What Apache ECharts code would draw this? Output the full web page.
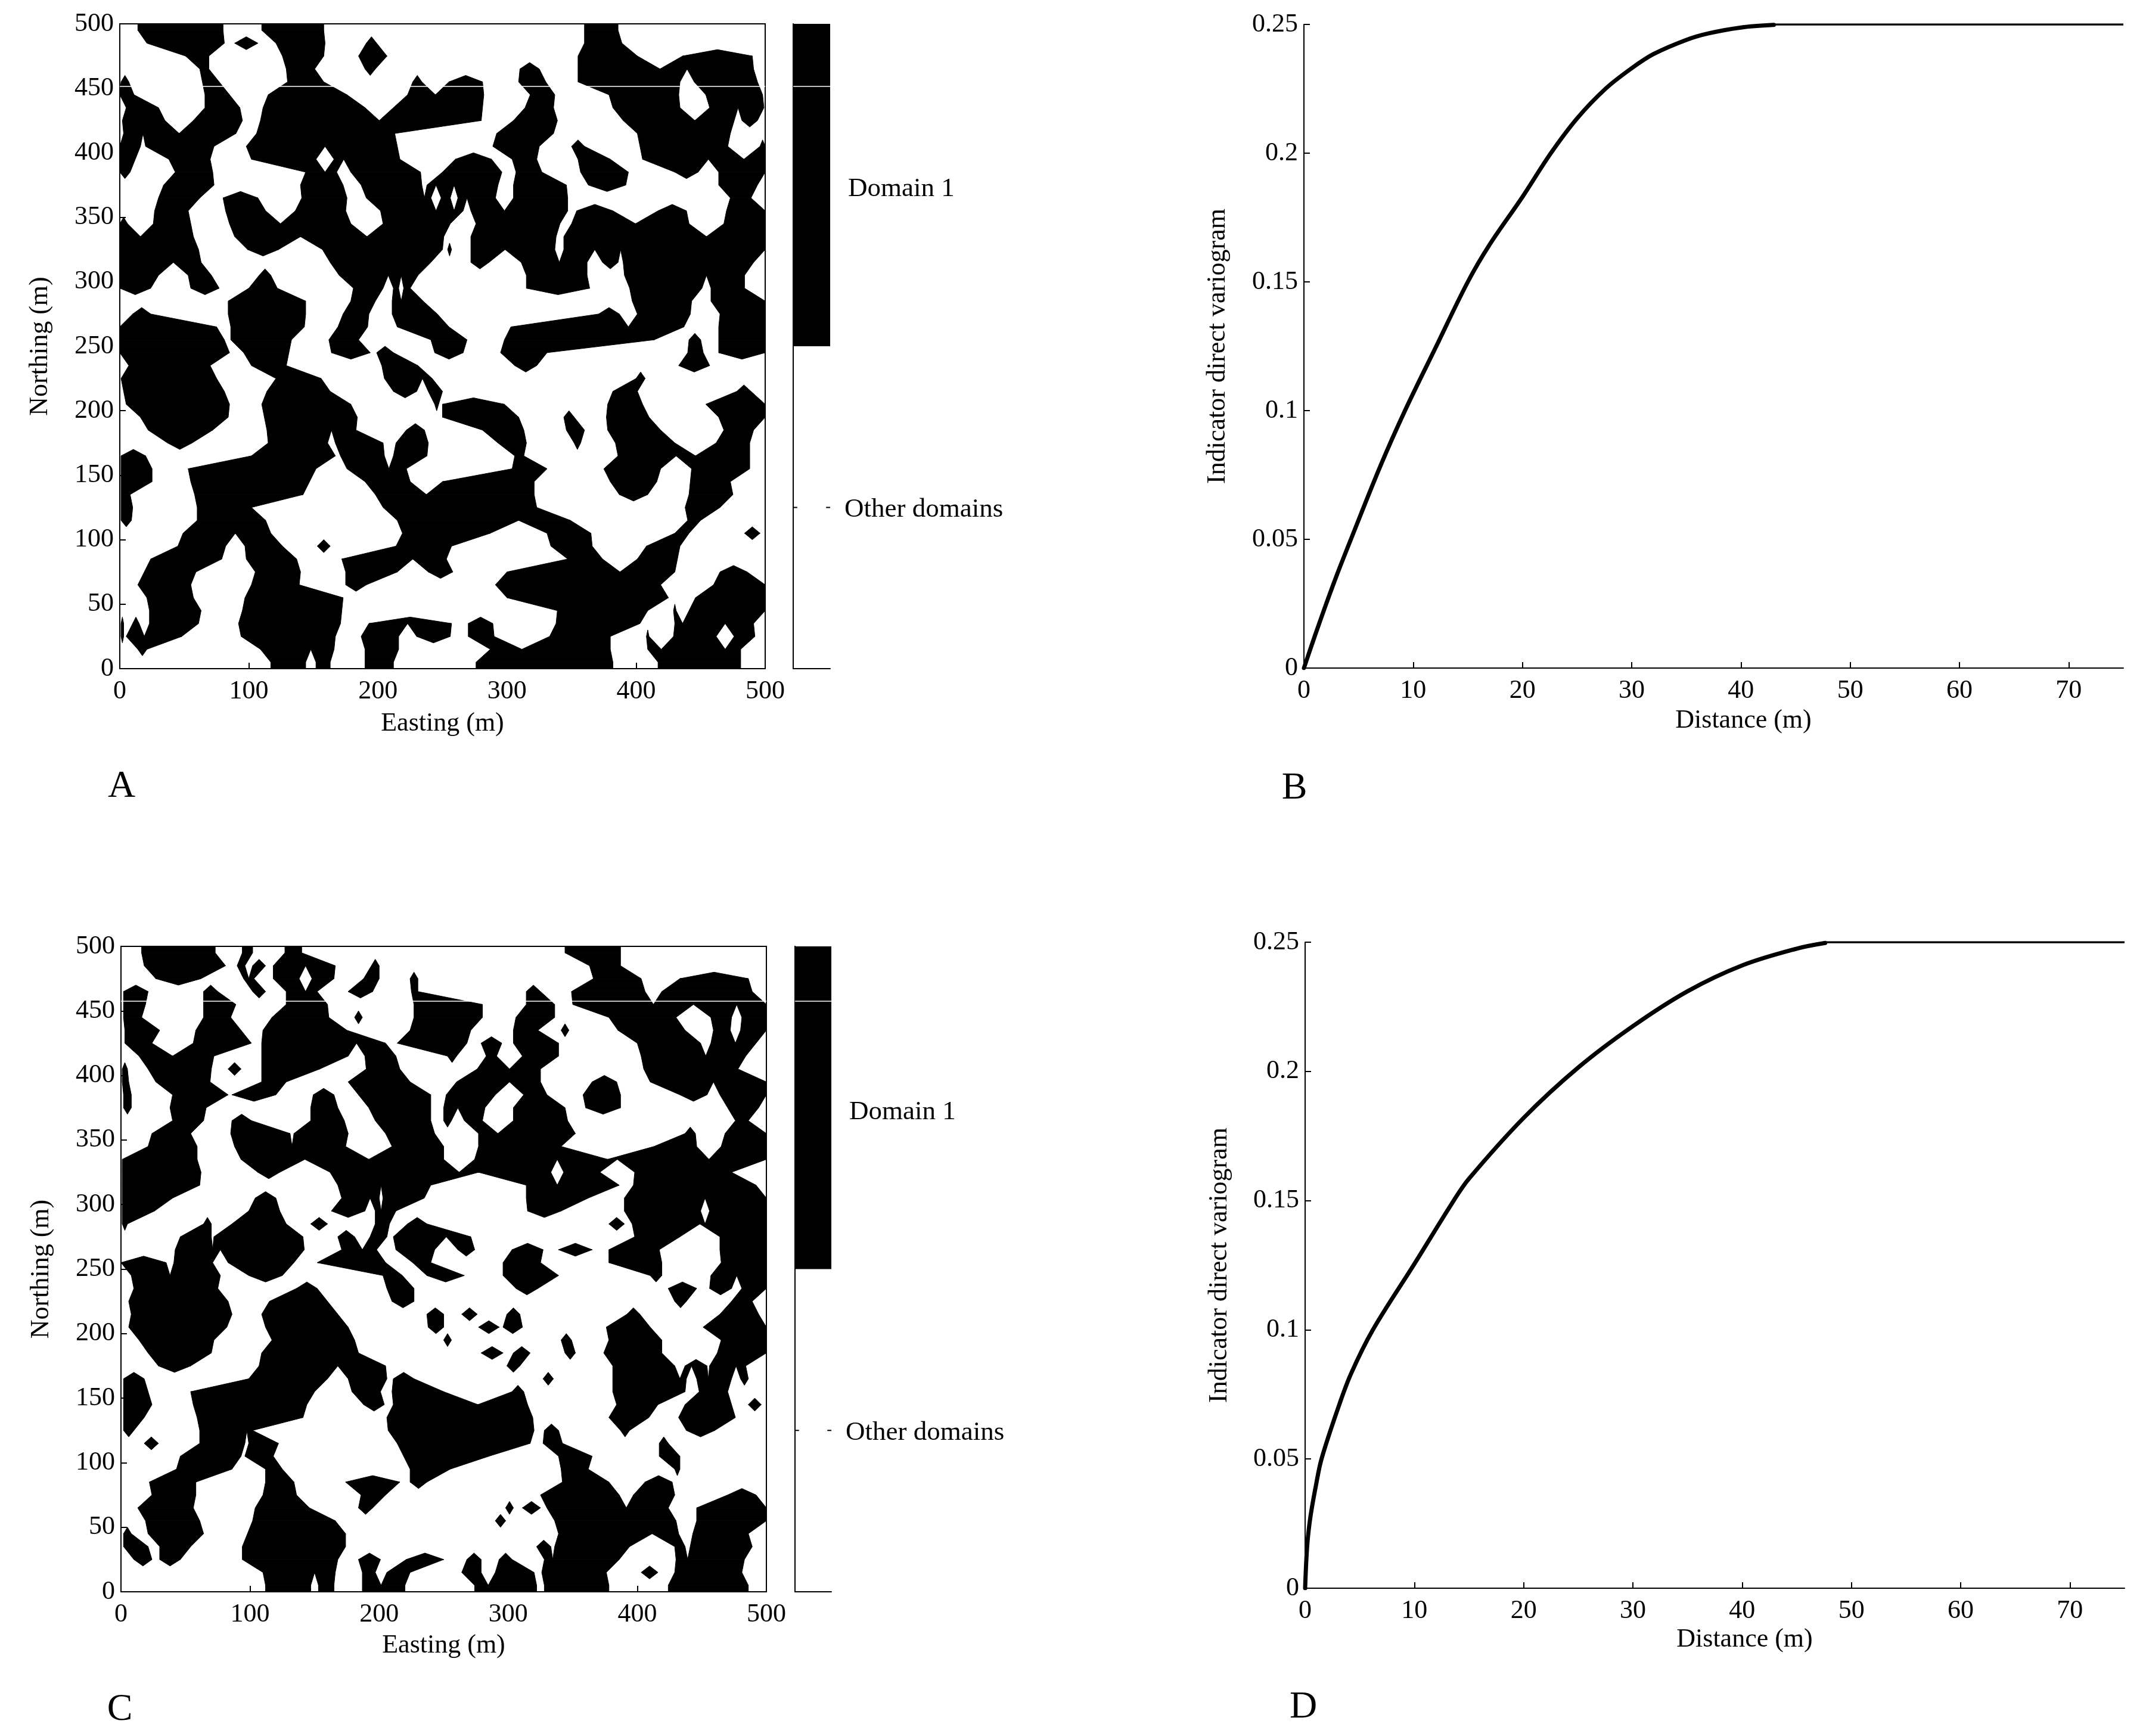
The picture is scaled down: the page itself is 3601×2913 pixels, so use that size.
<!DOCTYPE html>
<html><head><meta charset="utf-8">
<style>html,body{margin:0;padding:0;background:#fff}#c{width:3601px;height:2913px}</style>
<script src="https://cdn.jsdelivr.net/npm/echarts@6/dist/echarts.min.js"></script>
</head><body><div id="c"></div>
<script>
const mapXTicks=[0,100,200,300,400,500];
const mapYTicks=[0,50,100,150,200,250,300,350,400,450,500];
const distTicks=[0,10,20,30,40,50,60,70];
const varioTicks=[0,0.05,0.1,0.15,0.2,0.25];
const domainNames=['Other domains','Domain 1'];
const rowNorthing=[495,485,475,465,455,445,435,425,415,405,395,385,375,365,355,345,335,325,315,305,295,285,275,265,255,245,235,225,215,205,195,185,175,165,155,145,135,125,115,105,95,85,75,65,55,45,35,25,15,5];
const mapARuns=[
[14,80,110,158,360,386],
[21,81,89,107,121,159,191,199,360,389],
[51,69,126,158,185,207,355,401,436,490],
[62,69,129,151,190,198,310,325,355,491],
[1,7,64,77,130,158,227,234,255,281,309,330,355,434,445,494],
[0,11,66,85,115,176,223,250,250,282,318,337,379,433,454,498],
[5,30,66,93,111,190,212,250,250,281,314,336,382,434,457,499],
[2,35,57,95,109,250,250,280,305,339,390,476,482,494],
[3,90,106,213,292,336,401,473],
[0,16,20,73,98,215,289,325,350,360,403,471,496,500],
[0,12,38,70,102,152,166,217,260,288,304,323,355,380,405,500],
[0,8,43,72,144,168,179,233,250,296,307,327,357,394,430,448,464,500],
[34,73,140,173,187,234,238,250,250,293,305,346,363,392,464,494],
[30,62,80,107,141,176,191,241,249,250,250,256,262,291,305,347,473,489],
[27,53,82,113,136,175,202,250,250,266,272,347,354,382,417,439,470,500],
[0,6,26,55,85,179,204,250,250,256,276,341,350,441,468,500],
[0,57,89,250,250,251,272,338,344,500],
[0,61,99,123,157,250,254,257,272,337,344,500],
[0,63,163,241,272,286,311,362,374,386,390,491],
[0,30,53,71,108,117,170,231,315,362,391,484],
[0,24,55,77,100,122,181,204,212,216,220,225,315,364,395,451,458,484],
[84,144,179,198,211,235,397,443,458,500],
[10,24,84,144,173,193,211,246,371,387,401,442,465,500],
[0,75,86,143,169,192,215,250,250,255,303,437,464,500],
[0,81,86,133,162,185,241,250,250,269,298,414,441,450,464,500],
[0,85,96,131,164,194,199,212,244,250,250,266,295,331,440,452,464,500],
[7,70,102,129,203,231,306,323,433,457],
[1,75,121,156,205,242,400,407],
[3,81,114,163,212,230,239,250,382,401,478,489],
[5,85,110,179,244,247,250,298,378,405,454,500],
[16,84,112,184,250,309,344,352,377,410,464,500],
[22,72,114,183,222,236,281,313,346,360,378,419,468,491],
[37,56,115,161,167,204,214,239,293,315,352,357,384,430,462,488],
[1,20,102,167,171,205,212,238,306,313,386,488],
[1,25,53,152,176,222,304,331,375,419,443,488],
[1,25,55,147,190,225,250,321,380,416,442,473],
[1,8,58,142,198,250,250,321,387,409,441,475],
[1,10,60,102,204,250,250,323,438,465],
[1,9,60,113,215,250,250,349,440,450],
[49,117,219,250,250,287,331,365,430,441,484,496],
[45,82,97,126,153,163,214,250,250,257,334,366,408,434],
[24,79,98,137,172,250,250,253,347,374,401,432],
[19,59,105,140,175,215,239,250,250,258,300,430,465,486],
[14,55,102,139,175,191,291,419,460,500],
[21,57,97,173,300,425,446,500],
[23,63,95,172,339,409,429,431,441,500],
[1,3,10,15,23,61,92,171,193,250,250,257,270,289,338,403,430,491],
[1,3,5,48,94,167,187,216,230,250,250,256,270,290,333,380,408,410,429,462,476,492],
[14,21,109,166,190,216,287,380,409,481],
[117,144,152,163,190,212,276,382,417,481]
];
const mapCRuns=[
[16,73,94,102,127,140,344,387],
[18,81,90,96,102,112,118,166,194,200,363,387],
[27,62,95,103,118,138,148,165,188,200,224,230,366,403,433,486],
[2,21,64,75,102,112,128,152,176,195,225,230,314,325,349,406,419,489],
[2,19,64,89,128,160,227,250,250,280,314,336,350,500],
[2,16,64,85,117,161,181,187,227,250,250,280,306,336,378,430,457,473,481,500],
[3,30,58,93,110,175,224,250,250,271,304,323,341,347,385,437,459,472,480,500],
[3,24,56,101,109,205,214,250,250,268,279,295,304,339,400,449,457,492],
[14,72,109,176,189,213,253,260,283,291,311,339,403,484],
[1,5,21,70,83,93,109,154,190,216,276,325,405,478],
[1,6,27,69,109,128,176,224,260,325,365,384,410,500],
[2,8,40,83,86,120,149,165,184,240,252,290,312,330,358,387,433,454,464,500],
[2,8,38,66,147,168,192,240,250,282,304,344,360,387,470,494],
[40,64,86,101,147,173,197,240,250,256,266,280,304,346,476,486],
[24,54,85,131,134,176,205,243,277,352,437,445,468,500],
[21,59,88,174,210,250,277,341,413,446,465,500],
[1,59,93,250,274,500],
[1,62,106,123,162,250,250,333,343,371,398,473],
[1,61,168,240,314,386,397,492],
[1,40,104,120,171,200,203,235,314,362,390,500],
[1,26,99,123,163,189,197,213,315,341,390,449,456,500],
[1,5,64,70,86,128,147,160,197,208,222,237,378,390,396,500],
[46,70,72,141,168,181,193,206,211,250,250,271,398,433,464,500],
[42,142,171,198,213,243,261,274,303,327,339,365,378,417,464,500],
[0,35,41,71,83,134,152,205,226,240,296,325,378,419,465,500],
[8,77,99,125,203,218,237,250,250,266,296,339,410,419,457,500],
[10,75,136,152,206,227,306,323,424,446,456,473,481,500],
[6,83,115,160,210,227,429,438,473,489],
[8,86,109,168,237,250,264,276,299,309,392,402,464,494],
[6,82,112,176,238,250,277,293,296,311,376,410,451,500],
[14,72,117,181,250,256,341,349,378,419,465,500],
[21,70,109,184,279,296,304,317,344,352,374,419,462,500],
[29,54,107,205,299,309,381,429,437,454,456,484],
[2,18,99,160,176,206,211,227,327,335,381,438,446,473,480,486],
[2,21,54,150,179,201,210,250,303,312,381,437,448,470],
[2,24,56,144,188,204,211,250,250,315,384,416,437,473,486,496],
[2,18,59,141,206,250,250,319,378,409,432,476],
[2,10,61,102,207,250,250,320,328,339,387,394,438,460],
[18,29,61,96,99,122,214,250,250,317,327,342,417,424],
[46,93,96,118,219,250,250,285,339,365,417,433],
[43,86,112,125,224,250,250,255,341,362,429,433],
[22,58,112,134,174,216,224,237,342,378,406,427],
[24,58,110,136,186,205,325,386,397,429,470,492],
[13,56,104,146,184,195,298,304,311,325,330,424,446,500],
[19,61,102,166,290,298,336,430,446,500],
[2,8,21,64,98,174,339,432,443,486],
[2,21,30,54,94,174,322,333,336,394,429,437,441,489],
[10,24,30,46,94,168,184,201,221,250,268,279,293,303,328,386,430,483],
[110,166,187,197,206,224,264,279,290,320,326,376,403,416,429,481],
[112,147,153,165,187,220,274,322,328,378,424,486]
];
const seamANorthing=451.5, seamCNorthing=457.5, seamABar=1.806, seamCBar=1.83;
const varioBDist=[0,1,2,3,4.3,7,9.25,12,15,17,20,22.6,25,27.6,30,32,35,37,40,43];
const varioBVal=[0,0.0125,0.0245,0.036,0.05,0.0785,0.1,0.124,0.15,0.1645,0.183,0.2,0.2135,0.225,0.233,0.2385,0.244,0.2465,0.2488,0.2498];
const plateauBDist=[43,50,60,75];
const varioDDist=[0,0.2,0.5,1,1.5,3,4.2,6.2,10,13.6,15,20,25,30,35,40,45,47.6];
const varioDVal=[0,0.017,0.028,0.04,0.05,0.0695,0.083,0.1,0.1255,0.15,0.1585,0.182,0.2015,0.2175,0.231,0.241,0.2475,0.2497];
const plateauDDist=[47.6,50,60,75];
const plateauVal=0.25;

const FONT='Liberation Serif', FS=44;
const chart=echarts.init(document.getElementById('c'),null,{renderer:'canvas'});
const black='#000';
const lineS={show:true,lineStyle:{color:black,width:2}};
function toPairs(r){const p=[];for(let k=0;k<r.length;k+=2){const a=r[k],b=r[k+1];
  if(p.length&&a<=p[p.length-1][1]+1)p[p.length-1][1]=Math.max(b,p[p.length-1][1]);else p.push([a,b]);}return p;}
function bandPieces(U,L,yT,yB,out){
  const hit=(a,b)=>a[0]<b[1]&&b[0]<a[1];
  const clip=(host,others,o)=>{const i=others.indexOf(o);
    const lo=i>0?(others[i-1][1]+o[0])/2:host[0], hi=i<others.length-1?(o[1]+others[i+1][0])/2:host[1];
    return [Math.max(host[0],lo),Math.min(host[1],hi)];};
  const yM=(yT+yB)/2;
  U.forEach(u=>{const Ls=L.filter(l=>hit(u,l));
    if(!Ls.length){const m=(u[0]+u[1])/2;out.push([u[0],u[1],m,m,yT,yM]);return;}
    Ls.forEach(l=>{const Us=U.filter(v=>hit(v,l));const a=clip(u,Ls,l),b=clip(l,Us,u);out.push([a[0],a[1],b[0],b[1],yT,yB]);});});
  L.forEach(l=>{if(!U.some(u=>hit(u,l))){const m=(l[0]+l[1])/2;out.push([m,m,l[0],l[1],yM,yB]);}});
}
function runsToData(runs){const d=[],P=runs.map(toPairs);
  P[0].forEach(u=>d.push([u[0],u[1],u[0],u[1],500,rowNorthing[0]]));
  for(let i=0;i<P.length-1;i++)bandPieces(P[i],P[i+1],rowNorthing[i],rowNorthing[i+1],d);
  P[P.length-1].forEach(u=>d.push([u[0],u[1],u[0],u[1],rowNorthing[P.length-1],0]));
  return d;}
function polyItem(p,api){
  const a=api.coord([api.value(0),api.value(4)]),b=api.coord([api.value(1),api.value(4)]),c=api.coord([api.value(3),api.value(5)]),e=api.coord([api.value(2),api.value(5)]);
  return {type:'polygon',shape:{points:[a,b,c,e]},style:{fill:black,stroke:black,lineWidth:1}};}
function rectItem(p,api){const a=api.coord([api.value(0),api.value(3)]),b=api.coord([api.value(1),api.value(2)]);
  return {type:'rect',shape:{x:a[0],y:a[1],width:b[0]-a[0],height:b[1]-a[1]},style:{fill:black}};}
const grids=[],xAxes=[],yAxes=[],series=[],graphics=[];
function axisCommon(ticks,margin,pad){return {axisLine:lineS,axisTick:{show:true,inside:true,length:10,lineStyle:{color:black,width:2},customValues:ticks},
  axisLabel:{customValues:ticks,color:black,fontFamily:FONT,fontSize:FS,margin:margin,hideOverlap:false,padding:pad},splitLine:{show:false}};}
function name(o,n,gap,pad){return Object.assign(o,{name:n,nameLocation:'middle',nameGap:gap,nameTextStyle:{color:black,fontFamily:FONT,fontSize:FS,padding:pad||0}});}
function addMap(L,T,W,H,runs,seam,eGap,nGap){
  const g=grids.length;
  grids.push({left:L,top:T,width:W,height:H,show:true,borderColor:black,borderWidth:2,backgroundColor:'#fff'});
  xAxes.push(name(Object.assign({gridIndex:g,type:'value',min:0,max:500},axisCommon(mapXTicks,16,0)),'Easting (m)',eGap));
  yAxes.push(name(Object.assign({gridIndex:g,type:'value',min:0,max:500},axisCommon(mapYTicks,10,[5,0,0,0])),'Northing (m)',nGap));
  series.push({type:'custom',xAxisIndex:g,yAxisIndex:yAxes.length-1,coordinateSystem:'cartesian2d',renderItem:polyItem,encode:{x:[0,1,2,3],y:[4,5]},data:runsToData(runs),silent:true,animation:false,clip:true});
  series.push({type:'line',xAxisIndex:g,yAxisIndex:yAxes.length-1,data:[[0,seam],[500,seam]],symbol:'none',lineStyle:{color:'#fff',width:1.5},silent:true,z:5,animation:false});
}
function addBar(L,T,W,H,seam,margin,leftLine,topD,topO){
  const g=grids.length;
  grids.push({left:L,top:T,width:W,height:H});
  xAxes.push({gridIndex:g,type:'value',min:0,max:1,axisLine:lineS,axisTick:{show:false},axisLabel:{show:false},splitLine:{show:false}});
  const vals=[0.5,1.5];
  const st={color:black,fontFamily:FONT,fontSize:45};
  yAxes.push({gridIndex:g,type:'value',min:0,max:2,position:'right',axisLine:lineS,axisTick:{show:false},
    axisLabel:{customValues:vals,formatter:v=>v<1?'{o|'+domainNames[0]+'}':'{d|'+domainNames[1]+'}',margin:margin,
      rich:{o:Object.assign({padding:[topO,0,0,0]},st),d:Object.assign({padding:[topD,0,0,6]},st)}},splitLine:{show:false}});
  const y=yAxes.length-1;
  series.push({type:'custom',xAxisIndex:g,yAxisIndex:y,coordinateSystem:'cartesian2d',renderItem:rectItem,encode:{x:[0,1],y:[2,3]},data:[[0,1,1,2]],silent:true,animation:false});
  series.push({type:'line',xAxisIndex:g,yAxisIndex:y,data:[[0,seam],[1,seam]],symbol:'none',lineStyle:{color:'#fff',width:1.5},silent:true,z:5,animation:false});
  vals.forEach(v=>{[[0,0.11],[0.89,1]].forEach(s=>{
    series.push({type:'line',xAxisIndex:g,yAxisIndex:y,data:[[s[0],v],[s[1],v]],symbol:'none',lineStyle:{color:black,width:2},silent:true,z:4,animation:false});});});
  yAxes.push({gridIndex:g,type:'value',min:0,max:2,position:'left',axisLine:{show:leftLine,lineStyle:{color:black,width:2}},axisTick:{show:false},axisLabel:{show:false},splitLine:{show:false}});
}
function addVario(L,T,W,H,dist,val,plateau,xGap,yGap){
  const g=grids.length;
  grids.push({left:L,top:T,width:W,height:H});
  xAxes.push(name(Object.assign({gridIndex:g,type:'value',min:0,max:75},axisCommon(distTicks,16,0)),'Distance (m)',xGap,[0,0,0,100]));
  yAxes.push(name(Object.assign({gridIndex:g,type:'value',min:0,max:0.25},axisCommon(varioTicks,10,[5,0,0,0])),'Indicator direct variogram',yGap));
  const y=yAxes.length-1;
  series.push({type:'line',xAxisIndex:g,yAxisIndex:y,data:dist.map((d,i)=>[d,val[i]]),symbol:'none',smooth:0.35,clip:true,lineStyle:{color:black,width:7,cap:'round'},silent:true,animation:false});
  series.push({type:'line',xAxisIndex:g,yAxisIndex:y,data:plateau.map(d=>[d,plateauVal]),symbol:'none',clip:true,lineStyle:{color:black,width:3.5},silent:true,animation:false});
}
function addLetter(t,x,y){graphics.push({type:'text',x:x,y:y,style:{text:t,fontFamily:FONT,fontSize:64,fill:black,textAlign:'center',textVerticalAlign:'middle'}});}
addMap(201,40,1083,1082,mapARuns,seamANorthing,70,112);
addMap(203,1588,1083,1083,mapCRuns,seamCNorthing,68,112);
addBar(1331,40,62,1082,seamABar,24,false,14,8);
addBar(1334,1588,61,1083,seamCBar,24,true,14,8);
addVario(2188,41,1375,1080,varioBDist,varioBVal,plateauBDist,66,123);
addVario(2190,1581,1375,1084,varioDDist,varioDVal,plateauDDist,64,122);
addLetter('A',204,1320);addLetter('B',2172,1323);addLetter('C',201,2869);addLetter('D',2187,2865);
chart.setOption({animation:false,backgroundColor:'#fff',grid:grids,xAxis:xAxes,yAxis:yAxes,series:series,graphic:graphics});
</script></body></html>
